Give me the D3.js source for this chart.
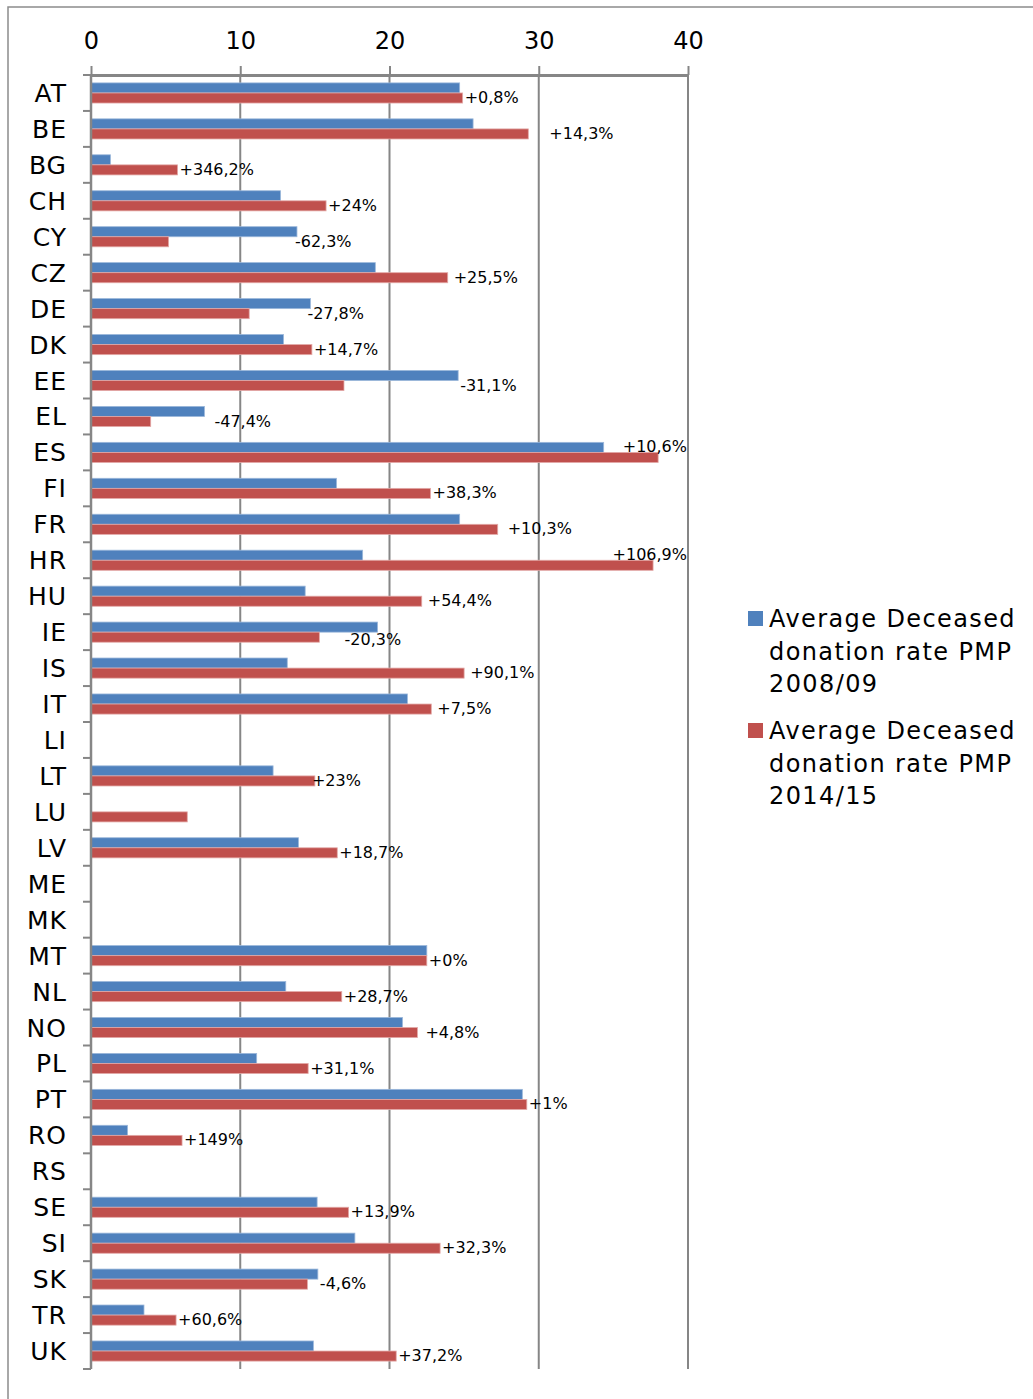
<!DOCTYPE html>
<meta charset="utf-8">
<style>
body { margin: 0; background: #fff; }
svg text { font-family: "DejaVu Sans", Verdana, sans-serif; fill: #000; }
.axis path, .axis line { stroke: #868686; }
.axis text { font-size: 24px; }
.cat { font-size: 25px; letter-spacing: 1px; }
.lbl { font-size: 16px; }
.legend text { font-size: 24px; letter-spacing: 1.4px; }
</style>
<svg id="chart" width="1033" height="1399"></svg>
<script src="https://d3js.org/d3.v7.min.js"></script>
<script>

// countries, top to bottom
var countries = ["AT","BE","BG","CH","CY","CZ","DE","DK","EE","EL","ES","FI","FR","HR","HU","IE","IS","IT",
                 "LI","LT","LU","LV","ME","MK","MT","NL","NO","PL","PT","RO","RS","SE","SI","SK","TR","UK"];

// average deceased donation rate PMP 2008/09 (null = no data)
var rate0809 = [24.7,25.6,1.3,12.7,13.8,19.05,14.7,12.9,24.6,7.6,34.35,16.45,24.7,18.2,14.35,19.2,13.15,21.2,
                null,12.2,null,13.9,null,null,22.5,13.05,20.87,11.1,28.9,2.45,null,15.15,17.68,15.2,3.55,14.9];

// average deceased donation rate PMP 2014/15
var rate1415 = [24.9,29.3,5.8,15.75,5.2,23.9,10.6,14.8,16.95,4.0,38.0,22.75,27.25,37.66,22.16,15.3,25.0,22.8,
                null,15.0,6.45,16.5,null,null,22.5,16.8,21.87,14.55,29.2,6.1,null,17.26,23.39,14.5,5.7,20.45];

// change labels
var changes = ["+0,8%","+14,3%","+346,2%","+24%","-62,3%","+25,5%","-27,8%","+14,7%","-31,1%","-47,4%","+10,6%",
               "+38,3%","+10,3%","+106,9%","+54,4%","-20,3%","+90,1%","+7,5%","","+23%","","+18,7%","","",
               "+0%","+28,7%","+4,8%","+31,1%","+1%","+149%","","+13,9%","+32,3%","-4,6%","+60,6%","+37,2%"];

var seriesNames = [["Average Deceased", "donation rate PMP", "2008/09"],
                   ["Average Deceased", "donation rate PMP", "2014/15"]];
var colors = ["#4f81bd", "#c0504d"];
var edges = ["#9bb7da", "#e3a9a7"];
var xTicks = [0, 10, 20, 30, 40];

// hand placed labels in the original (px shift)
var labelShift = {BE: 19, CY: -4, CZ: 4, DE: -5, EL: 8, FR: 8, HU: 4, IE: -35, IS: 4, IT: 4, LT: -5, NO: 6};

var svg = d3.select("#chart");

// outer frame
svg.append("rect")
    .attr("x", 8).attr("y", 7)
    .attr("width", 1040).attr("height", 1400)
    .attr("fill", "none")
    .attr("stroke", "#8c8c8c")
    .attr("stroke-width", 1.5);

var plotLeft = 91, plotRight = 688, plotTop = 75, plotBottom = 1369;

var x = d3.scaleLinear().domain([0, 40]).range([plotLeft, plotRight]);

var y = d3.scaleBand()
    .domain(countries)
    .range([plotTop, plotBottom])
    .paddingInner(0.44)
    .paddingOuter(0.22);

var ySub = d3.scaleBand().domain([0, 1]).range([0, y.bandwidth()]);

// grid lines
svg.append("g").selectAll("line")
    .data(xTicks.slice(1))
  .enter().append("line")
    .attr("x1", function(d) { return x(d); })
    .attr("x2", function(d) { return x(d); })
    .attr("y1", plotTop)
    .attr("y2", plotBottom)
    .attr("stroke", "#868686")
    .attr("stroke-width", 2);

// bars
var rows = countries.map(function(c, i) {
  return {c: c, v: [rate0809[i], rate1415[i]], label: changes[i]};
});

var bar = svg.append("g").selectAll("g")
    .data(rows)
  .enter().append("g")
    .attr("transform", function(d) { return "translate(0," + y(d.c) + ")"; });

bar.selectAll("rect")
    .data(function(d) { return d.v.map(function(v, k) { return {v: v, k: k}; }).filter(function(e) { return e.v != null; }); })
  .enter().append("rect")
    .attr("x", x(0))
    .attr("y", function(d) { return ySub(d.k); })
    .attr("width", function(d) { return x(d.v) - x(0); })
    .attr("height", ySub.bandwidth())
    .attr("fill", function(d) { return colors[d.k]; })
    .attr("stroke", function(d) { return edges[d.k]; })
    .attr("stroke-width", 0.8);

// data labels
var labelled = rows.filter(function(d) { return d.label !== ""; });
svg.append("g").selectAll("text")
    .data(labelled)
  .enter().append("text")
    .attr("class", "lbl")
    .text(function(d) { return d.label; })
    .each(function(d) {
      var t = d3.select(this);
      var end = x(d3.max(d.v));
      var w = this.getComputedTextLength();
      var startX = end + 2 + (labelShift[d.c] || 0);
      if (startX + w > plotRight) {
        t.attr("text-anchor", "end")
         .attr("x", plotRight - 1)
         .attr("y", y(d.c) + ySub(0) + ySub.bandwidth() / 2 - 1 + 5.5);
      } else {
        t.attr("x", startX)
         .attr("y", y(d.c) + ySub(1) + ySub.bandwidth() / 2 - 0.5 + 5.5 + (d.c === "IE" ? 3 : 0));
      }
    });

// category axis (ticks between categories)
var yAxis = svg.append("g");
yAxis.append("line")
    .attr("x1", plotLeft).attr("x2", plotLeft)
    .attr("y1", plotTop).attr("y2", plotBottom)
    .attr("stroke", "#868686").attr("stroke-width", 2.5);

yAxis.selectAll(".tk")
    .data(d3.range(countries.length + 1))
  .enter().append("line")
    .attr("x1", plotLeft - 8).attr("x2", plotLeft)
    .attr("y1", function(i) { return plotTop + i * y.step(); })
    .attr("y2", function(i) { return plotTop + i * y.step(); })
    .attr("stroke", "#868686").attr("stroke-width", 2);

yAxis.selectAll(".cat")
    .data(countries)
  .enter().append("text")
    .attr("class", "cat")
    .attr("text-anchor", "end")
    .attr("x", 67)
    .attr("y", function(d) { return y(d) + y.bandwidth() / 2 + 9; })
    .text(function(d) { return d; });

// value axis on top
var xAxis = svg.append("g")
    .attr("class", "axis")
    .attr("transform", "translate(0," + plotTop + ")")
    .call(d3.axisTop(x).tickValues(xTicks).tickSize(9).tickPadding(17).tickSizeOuter(0));

xAxis.select(".domain").attr("stroke-width", 3);
xAxis.selectAll(".tick line").attr("stroke-width", 2);
xAxis.selectAll(".tick text").attr("fill", "#000").attr("font-family", null);

// legend
var legend = svg.append("g").attr("class", "legend");
var entry = legend.selectAll("g")
    .data(seriesNames)
  .enter().append("g")
    .attr("transform", function(d, i) { return "translate(748," + (611 + i * 112) + ")"; });

entry.append("rect")
    .attr("width", 15).attr("height", 15)
    .attr("fill", function(d, i) { return colors[i]; });

entry.selectAll("text")
    .data(function(d) { return d; })
  .enter().append("text")
    .attr("x", 21)
    .attr("y", function(d, j) { return 16 + j * 32.5; })
    .text(function(d) { return d; });

</script>
